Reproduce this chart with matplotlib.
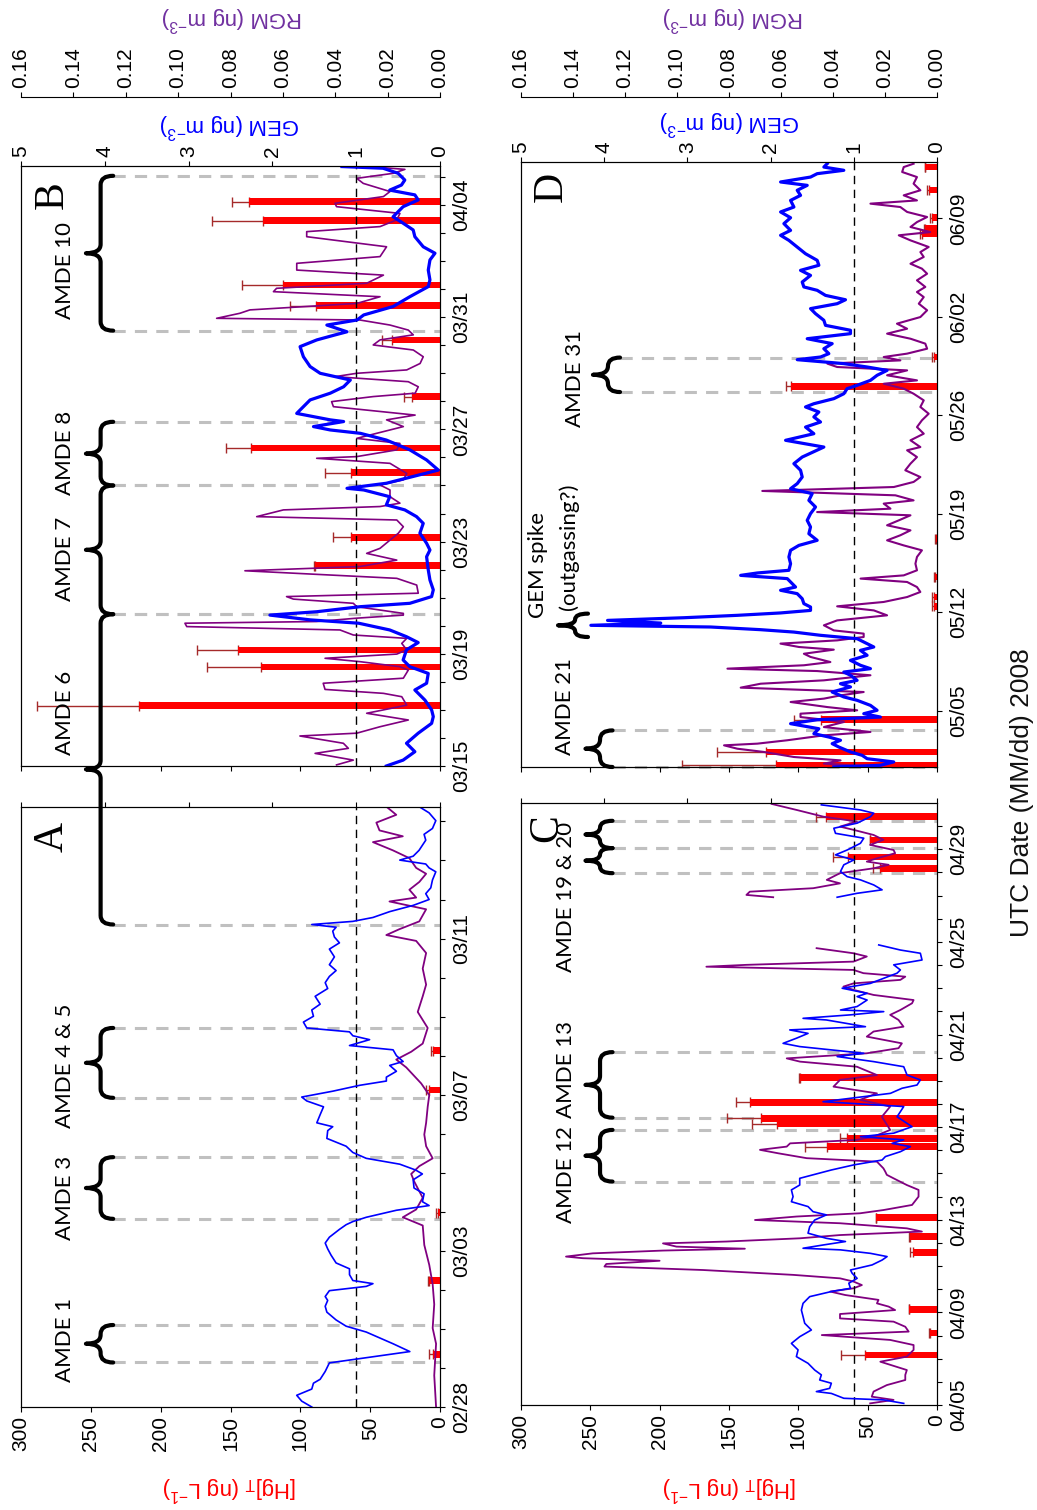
import numpy as np
import matplotlib
matplotlib.use('Agg')
import matplotlib.pyplot as plt
from matplotlib.path import Path
from matplotlib.patches import PathPatch
from matplotlib.transforms import blended_transform_factory
from matplotlib.ticker import FormatStrFormatter
from datetime import date

plt.rcParams['font.family'] = ['Liberation Sans', 'DejaVu Sans']

# ---------------- data (time = days since 2008-01-01) ----------------
A_gem = [(58.00,1.53),(58.15,1.65),(58.30,1.71),(58.46,1.53),(58.61,1.51),(58.71,1.43),(58.91,1.37),(59.13,1.32),
         (59.42,0.36),(59.62,0.56),(59.77,0.72),(59.92,0.88),(60.07,1.12),(60.23,1.24),(60.43,1.35),(60.58,1.37),
         (60.73,1.34),(60.83,1.37),(60.98,1.32),(61.09,0.88),(61.16,0.80),(61.24,1.04),(61.39,1.08),(61.54,1.08),
         (61.69,1.24),(61.89,1.30),(62.05,1.34),(62.20,1.37),(62.35,1.32),(62.55,1.20),(62.67,1.12),(62.75,1.04),
         (62.86,0.88),(63.04,0.52),(63.16,0.13),(63.26,0.21),(63.46,0.19),(63.61,0.31),(63.82,0.32),(63.97,0.21),
         (64.07,0.29),(64.22,0.48),(64.37,0.88),(64.52,1.04),(64.68,1.12),(64.88,1.35),(65.08,1.34),(65.18,1.28),
         (65.28,1.47),(65.49,1.43),(65.69,1.39),(65.84,1.59),(65.94,1.65),(66.09,1.28),(66.24,0.96),(66.35,0.64),
         (66.45,0.64),(66.60,0.52),(66.75,0.60),(66.85,0.44),(67.00,0.52),(67.15,0.56),(67.26,1.08),(67.41,0.84),
         (67.51,1.04),(67.61,1.08),(67.71,1.59),(67.86,1.63),(68.01,1.51),(68.17,1.53),(68.32,1.43),(68.52,1.49),
         (68.72,1.34),(68.87,1.37),(69.03,1.32),(69.18,1.24),(69.33,1.32),(69.53,1.26),(69.73,1.32),(69.89,1.20),
         (70.04,1.26),(70.19,1.28),(70.29,1.24),(70.36,1.53),(70.44,1.04),(70.54,0.80),(70.69,0.60),(70.85,0.32),
         (71.00,0.13),(71.15,0.17),(71.30,0.11),(71.50,0.09),(71.71,0.05),(71.81,0.13),(71.91,0.17),(72.01,0.48),
         (72.11,0.32),(72.26,0.25),(72.52,0.17),(72.67,0.19),(72.82,0.09),(73.02,0.05),(73.22,0.13),(73.38,0.25)]
A_rgm = [(58.00,0.0015),(58.81,0.0022),(59.62,0.0015),(60.02,0.0028),(60.63,0.0022),(61.14,0.0028),(61.64,0.0041),
         (62.15,0.0060),(62.65,0.0066),(62.86,0.0142),(63.06,0.0091),(63.36,0.0066),(63.77,0.0098),(63.97,0.0110),
         (64.17,0.0079),(64.37,0.0028),(64.68,0.0053),(64.98,0.0060),(65.28,0.0053),(65.69,0.0047),(65.99,0.0041),
         (66.29,0.0072),(66.70,0.0129),(66.90,0.0167),(67.10,0.0110),(67.31,0.0066),(67.71,0.0047),(68.12,0.0085),
         (68.52,0.0066),(68.82,0.0053),(69.23,0.0066),(69.63,0.0053),(69.94,0.0091),(70.09,0.0205),(70.24,0.0155),
         (70.44,0.0079),(70.75,0.0053),(70.95,0.0193),(71.05,0.0091),(71.25,0.0117),(71.45,0.0079),(71.66,0.0053),
         (71.81,0.0091),(72.06,0.0117),(72.26,0.0180),(72.47,0.0256),(72.62,0.0142),(72.77,0.0231),(72.97,0.0243),
         (73.17,0.0167),(73.38,0.0205)]
A_hg = [(59.35,5.2,7.6),(61.24,7.6,8.8),(62.98,1.7,2.9),(66.12,7.6,10.0),(67.13,5.2,6.4)]

B_gem = [(74.00,0.64),(74.21,0.44),(74.51,0.30),(74.81,0.40),(75.17,0.26),(75.52,0.10),(75.76,0.08),(76.00,0.10),
         (76.35,0.18),(76.71,0.30),(76.95,0.16),(77.30,0.14),(77.54,0.36),(77.78,0.44),(78.14,0.40),(78.40,0.26),
         (78.61,0.40),(78.85,0.60),(79.09,0.97),(79.21,1.55),(79.38,2.03),(79.50,1.47),(79.68,0.95),(79.80,0.36),
         (80.04,0.10),(80.28,0.08),(80.63,0.12),(80.99,0.14),(81.46,0.16),(81.70,0.12),(81.94,0.16),(82.30,0.24),
         (82.65,0.20),(82.89,0.28),(83.13,0.42),(83.31,0.64),(83.60,0.60),(83.84,0.91),(83.90,1.11),(84.08,0.64),
         (84.55,0.02),(84.91,0.16),(85.27,0.36),(85.62,0.64),(85.86,0.95),(85.98,1.31),(86.10,1.51),(86.28,1.15),
         (86.34,1.31),(86.57,1.71),(86.81,1.63),(87.05,1.55),(87.29,1.31),(87.52,1.15),(87.76,1.07),(88.00,1.43),
         (88.24,1.55),(88.59,1.63),(88.95,1.67),(89.19,1.47),(89.37,1.25),(89.48,1.11),(89.72,1.35),(89.90,0.99),
         (90.08,0.91),(90.38,0.56),(90.73,0.36),(91.09,0.14),(91.33,0.12),(91.68,0.14),(92.04,0.12),(92.28,0.06),
         (92.51,0.20),(92.87,0.30),(93.11,0.32),(93.35,0.44),(93.58,0.56),(93.94,0.44),(94.18,0.26),(94.36,0.30),
         (94.53,0.60),(94.71,0.46),(94.89,0.42),(95.13,0.50),(95.31,0.68),(95.37,1.17)]
B_rgm = [(74.04,0.0395),(74.21,0.0331),(74.45,0.0477),(74.63,0.0350),(74.81,0.0369),(75.07,0.0535),(75.17,0.0318),
         (75.40,0.0229),(75.64,0.0121),(75.88,0.0280),(76.00,0.0216),(76.17,0.0127),(76.47,0.0146),(76.59,0.0216),
         (76.73,0.0439),(76.95,0.0446),(77.13,0.0140),(77.42,0.0121),(77.54,0.0153),(77.72,0.0306),(77.84,0.0439),
         (77.99,0.0165),(78.14,0.0127),(78.37,0.0146),(78.55,0.0127),(78.67,0.0331),(78.85,0.0382),(78.97,0.0967),
         (79.09,0.0974),(79.15,0.0471),(79.27,0.0318),(79.38,0.0140),(79.44,0.0140),(79.68,0.0318),(79.80,0.0331),
         (79.95,0.0560),(80.04,0.0586),(80.16,0.0083),(80.45,0.0089),(80.69,0.0165),(80.96,0.0745),(81.11,0.0306),
         (81.34,0.0165),(81.58,0.0280),(81.76,0.0229),(82.30,0.0159),(82.53,0.0140),(82.77,0.0165),(82.89,0.0700),
         (83.13,0.0598),(83.25,0.0229),(83.37,0.0153),(83.60,0.0191),(83.84,0.0191),(84.02,0.0229),(84.20,0.0140),
         (84.43,0.0127),(84.79,0.0191),(84.97,0.0471),(85.03,0.0318),(85.27,0.0165),(85.50,0.0153),(85.68,0.0318),
         (85.86,0.0242),(86.10,0.0140),(86.34,0.0204),(86.51,0.0095),(86.81,0.0407),(86.99,0.0414),(87.17,0.0255),
         (87.29,0.0095),(87.52,0.0083),(87.70,0.0121),(87.88,0.0401),(88.00,0.0318),(88.12,0.0127),(88.35,0.0076),
         (88.59,0.0064),(88.83,0.0102),(89.01,0.0255),(89.19,0.0229),(89.37,0.0102),(89.54,0.0121),(89.72,0.0191),
         (89.90,0.0306),(89.96,0.0853),(90.14,0.0764),(90.26,0.0726),(90.49,0.0318),(90.73,0.0229),(90.91,0.0636),
         (91.03,0.0624),(91.21,0.0280),(91.50,0.0216),(91.68,0.0547),(91.92,0.0547),(92.16,0.0229),(92.51,0.0204),
         (92.87,0.0509),(93.05,0.0509),(93.23,0.0229),(93.47,0.0165),(93.70,0.0153),(93.94,0.0395),(94.06,0.0401),
         (94.30,0.0216),(94.48,0.0191),(94.77,0.0293),(94.95,0.0318),(95.13,0.0178),(95.27,0.0134),(95.34,0.0229)]
B_hg = [(76.15,215.5,288.9),(77.52,128.2,166.6),(78.14,144.4,173.7),(81.14,89.5,90.2),(82.15,64.0,76.4),
        (84.46,64.0,82.3),(85.33,135.6,153.2),(87.17,20.3,25.5),(89.19,34.6,41.8),(90.41,88.8,107.4),
        (91.15,112.6,142.0),(93.44,127.0,163.5),(94.12,136.5,149.0)]

C_gem = [(95.07,0.40),(95.22,0.64),(95.29,1.12),(95.50,1.27),(95.58,1.45),(95.72,1.29),(95.94,1.27),(96.08,1.41),
         (96.30,1.39),(96.51,1.47),(96.80,1.55),(97.09,1.69),(97.38,1.67),(97.66,1.75),(97.95,1.65),(98.24,1.51),
         (98.53,1.59),(98.82,1.61),(99.10,1.63),(99.39,1.61),(99.68,1.53),(99.90,1.27),(100.04,1.04),(100.26,1.06),
         (100.47,0.96),(100.69,1.02),(100.83,1.04),(101.05,0.78),(101.26,0.66),(101.41,0.60),(101.55,0.80),
         (101.70,1.16),(101.77,1.61),(101.91,1.37),(102.06,1.10),(102.20,1.33),(102.42,1.55),(102.70,1.53),
         (102.99,1.47),(103.21,1.33),(103.35,1.49),(103.57,1.55),(103.78,1.75),(104.00,1.73),(104.29,1.75),
         (104.50,1.65),(104.79,1.65),(105.15,1.27),(105.37,1.00),(105.58,0.66),(105.73,0.62),(105.94,0.44),
         (106.16,0.32),(106.30,0.54),(106.45,0.40),(106.59,0.92),(106.74,0.52),(107.02,0.30),(107.45,0.48),
         (107.89,0.40),(108.10,1.37),(108.46,0.56),(108.68,0.42),(108.82,0.24),(109.04,0.20),(109.25,0.36),
         (109.61,0.40),(109.83,0.76),(110.05,1.20),(110.19,0.88),(110.48,1.65),(110.62,1.85),(110.84,1.69),
         (111.05,1.55),(111.20,1.77),(111.34,0.86),(111.63,1.33),(111.70,1.61),(111.85,1.04),(111.99,0.64),
         (112.06,1.16),(112.21,0.96),(112.49,0.84),(112.64,0.96),(112.78,0.84),(113.00,1.14),(113.21,0.80),
         (113.43,0.64),(113.65,0.48),(113.79,0.44),(114.01,0.52),(114.22,0.18),(114.51,0.20),(114.65,0.44),
         (114.87,0.70),(115.9,np.nan),(116.93,1.20),(117.10,0.96),(117.25,0.66),(117.46,0.76),(117.68,0.92),
         (117.82,1.08),(118.04,1.16),(118.33,1.12),(118.54,1.00),(118.76,1.22),(118.97,1.08),(119.26,0.92),
         (119.48,0.88),(119.69,1.22),(119.91,1.24),(120.13,0.96),(120.41,0.80),(120.56,0.76),(120.70,0.92),
         (120.92,1.39)]
C_rgm = [(95.07,0.0257),(95.22,0.0167),(95.36,0.0251),(95.58,0.0244),(95.86,0.0193),(96.08,0.0122),(96.30,0.0122),
         (96.51,0.0116),(96.87,0.0218),(97.09,0.0116),(97.38,0.0090),(97.59,0.0090),(97.81,0.0180),(98.02,0.0443),
         (98.17,0.0109),(98.38,0.0122),(98.60,0.0167),(98.74,0.0373),(98.93,0.0373),(99.10,0.0161),(99.25,0.0186),
         (99.39,0.0231),(99.54,0.0225),(99.75,0.0353),(99.90,0.0411),(100.04,0.0321),(100.18,0.0289),(100.33,0.0321),
         (100.47,0.0373),(100.62,0.0553),(100.83,0.0900),(100.98,0.1279),(101.09,0.1272),(101.23,0.1067),
         (101.34,0.1362),(101.41,0.1427),(101.55,0.1324),(101.67,0.1054),(101.75,0.0739),(101.84,0.1002),
         (101.98,0.1054),(102.06,0.0810),(102.20,0.0527),(102.34,0.0373),(102.49,0.0058),(102.63,0.0116),
         (102.85,0.0373),(102.99,0.0700),(103.14,0.0540),(103.28,0.0296),(103.42,0.0206),(103.64,0.0096),
         (104.00,0.0071),(104.29,0.0071),(104.50,0.0116),(104.79,0.0167),(104.94,0.0193),(105.08,0.0199),
         (105.22,0.0206),(105.51,0.0231),(105.66,0.0501),(105.87,0.0610),(106.02,0.0681),(106.16,0.0578),
         (106.30,0.0565),(106.45,0.0308),(106.59,0.0244),(106.88,0.0180),(107.45,0.0212),(107.89,0.0180),
         (108.18,0.0296),(108.46,0.0231),(108.75,0.0398),(109.04,0.0373),(109.25,0.0231),(109.61,0.0308),
         (109.83,0.0527),(109.97,0.0578),(110.19,0.0270),(110.41,0.0148),(110.62,0.0135),(110.91,0.0270),
         (111.13,0.0244),(111.34,0.0129),(111.63,0.0148),(111.85,0.0180),(112.06,0.0141),(112.35,0.0096),
         (112.49,0.0090),(112.71,0.0244),(112.93,0.0321),(113.07,0.0360),(113.21,0.0321),(113.36,0.0141),
         (113.50,0.0122),(113.65,0.0283),(113.79,0.0321),(113.93,0.0887),(114.01,0.0733),(114.15,0.0321),
         (114.37,0.0270),(114.51,0.0321),(114.73,0.0463),(115.9,np.nan),(116.93,0.0630),(117.03,0.0733),
         (117.17,0.0720),(117.32,0.0476),(117.53,0.0373),(117.68,0.0424),(117.97,0.0373),(118.18,0.0244),
         (118.33,0.0186),(118.47,0.0270),(118.61,0.0231),(118.83,0.0161),(118.97,0.0167),(119.19,0.0257),
         (119.41,0.0206),(119.62,0.0244),(119.84,0.0321),(119.98,0.0373),(120.20,0.0308),(120.41,0.0437),
         (120.70,0.0540),(120.96,0.0636)]
C_hg = [(97.16,51.8,69.2),(98.10,5.3,6.0),(99.13,20.5,20.5),(101.59,17.6,19.8),(102.27,19.8,20.5),
        (103.09,43.9,43.9),(106.16,79.0,95.2),(106.52,64.6,70.0),(107.14,115.2,133.3),(107.38,127.2,151.3),
        (108.07,134.5,145.0),(109.14,98.8,99.5),(118.18,41.0,45.8),(118.66,63.9,75.2),(119.41,48.2,48.2),
        (120.41,80.0,87.2)]

D_gem = [(121.00,1.24),(121.12,0.68),(121.36,0.52),(121.59,0.84),(121.83,0.90),(122.07,1.04),(122.42,1.18),
         (122.66,1.26),(122.90,1.16),(123.13,1.30),(123.37,1.48),(123.72,1.42),(124.08,1.76),(124.36,1.44),
         (124.55,0.68),(124.79,0.88),(125.03,0.72),(125.38,0.80),(125.74,0.96),(125.98,1.12),(126.33,1.26),
         (126.69,1.04),(126.92,1.16),(127.16,0.96),(127.52,1.04),(127.75,1.12),(127.99,0.80),(128.23,0.92),
         (128.58,1.04),(128.94,0.84),(129.29,0.92),(129.53,0.76),(129.88,0.88),(130.12,0.96),(130.36,1.40),
         (130.59,1.72),(130.76,2.12),(130.95,2.72),(131.07,4.16),(131.23,3.32),(131.42,3.96),(131.61,3.04),
         (131.78,2.40),(131.95,1.88),(132.13,1.52),(132.37,1.52),(132.61,1.60),(132.96,1.62),(133.32,1.68),
         (133.56,1.88),(133.79,1.70),(134.15,1.76),(134.39,1.80),(134.62,2.36),(134.79,2.16),(134.98,1.78),
         (135.45,1.76),(135.93,1.78),(136.40,1.76),(136.75,1.66),(137.11,1.44),(137.58,1.54),(138.06,1.52),
         (138.53,1.56),(139.01,1.52),(139.48,1.46),(139.95,1.54),(140.43,1.50),(140.78,1.76),(141.14,1.68),
         (141.61,1.62),(142.09,1.64),(142.56,1.72),(143.03,1.62),(143.74,1.36),(144.22,1.82),(144.69,1.48),
         (145.16,1.58),(145.52,1.40),(145.88,1.48),(146.23,1.42),(146.59,1.58),(146.82,1.48),(147.18,1.24),
         (147.53,1.12),(147.89,1.08),(148.13,0.96),(148.48,0.80),(148.84,0.72),(149.19,0.60),(149.43,0.84),
         (149.67,1.12),(149.95,1.68),(150.14,1.40),(150.38,1.30),(150.73,1.36),(151.09,1.26),(151.44,1.56),
         (151.80,1.04),(152.04,1.04),(152.39,1.34),(152.75,1.36),(153.22,1.46),(153.58,1.52),(153.93,1.20),
         (154.21,1.10),(154.52,1.34),(154.88,1.44),(155.12,1.60),(155.47,1.62),(155.94,1.52),(156.30,1.64),
         (156.66,1.42),(157.01,1.44),(157.48,1.58),(157.96,1.68),(158.43,1.78),(158.79,1.88),(159.14,1.76),
         (159.62,1.84),(160.04,1.76),(160.45,1.88),(160.80,1.72),(161.27,1.76),(161.63,1.64),(161.99,1.68),
         (162.34,1.56),(162.58,1.88),(162.93,1.52),(163.17,1.44),(163.41,1.12),(163.64,1.36),(163.88,1.32)]
D_rgm = [(121.00,0.0230),(121.24,0.0435),(121.47,0.0371),(121.71,0.0550),(122.07,0.0666),(122.30,0.0768),
         (122.54,0.0819),(122.66,0.0691),(122.90,0.0576),(123.25,0.0435),(123.49,0.0256),(123.84,0.0435),
         (124.20,0.0358),(124.55,0.0525),(124.79,0.0525),(125.03,0.0307),(125.26,0.0422),(125.62,0.0563),
         (125.86,0.0435),(126.09,0.0371),(126.33,0.0282),(126.64,0.0755),(126.92,0.0678),(127.16,0.0435),
         (127.52,0.0256),(127.82,0.0461),(127.99,0.0806),(128.23,0.0512),(128.46,0.0410),(128.82,0.0486),
         (129.05,0.0512),(129.34,0.0397),(129.53,0.0531),(129.77,0.0602),(130.00,0.0384),(130.24,0.0282),
         (130.48,0.0282),(130.71,0.0397),(131.07,0.0435),(131.42,0.0384),(131.78,0.0192),(132.13,0.0243),
         (132.42,0.0384),(132.73,0.0205),(133.08,0.0115),(133.44,0.0064),(133.79,0.0077),(134.15,0.0115),
         (134.39,0.0294),(134.62,0.0128),(134.98,0.0077),(135.45,0.0083),(135.93,0.0077),(136.40,0.0058),
         (136.75,0.0128),(137.11,0.0192),(137.47,0.0141),(137.82,0.0102),(138.18,0.0192),(138.53,0.0147),
         (138.89,0.0102),(139.12,0.0461),(139.36,0.0179),(139.72,0.0205),(139.95,0.0090),(140.31,0.0160),
         (140.62,0.0672),(140.90,0.0166),(141.26,0.0090),(141.61,0.0064),(142.09,0.0122),(142.56,0.0102),
         (143.03,0.0077),(143.51,0.0115),(143.74,0.0064),(144.22,0.0102),(144.69,0.0051),(145.16,0.0077),
         (145.64,0.0058),(146.11,0.0032),(146.59,0.0064),(147.06,0.0051),(147.53,0.0090),(147.89,0.0128),
         (148.24,0.0205),(148.48,0.0077),(148.84,0.0192),(149.19,0.0115),(149.43,0.0384),(149.67,0.0422),
         (149.90,0.0141),(150.14,0.0205),(150.38,0.0115),(150.73,0.0038),(151.09,0.0045),(151.44,0.0102),
         (151.80,0.0192),(152.15,0.0115),(152.51,0.0154),(152.98,0.0064),(153.46,0.0038),(153.93,0.0070),
         (154.40,0.0051),(154.76,0.0077),(155.12,0.0045),(155.59,0.0077),(156.06,0.0038),(156.42,0.0058),
         (156.77,0.0102),(157.25,0.0051),(157.60,0.0064),(157.96,0.0032),(158.43,0.0102),(158.79,0.0147),
         (159.02,0.0026),(159.38,0.0102),(159.73,0.0077),(160.09,0.0038),(160.45,0.0115),(160.80,0.0141),
         (161.04,0.0256),(161.27,0.0077),(161.63,0.0128),(161.99,0.0064),(162.46,0.0090),(162.93,0.0077),
         (163.29,0.0134),(163.64,0.0128),(163.88,0.0090)]
D_hg = [(121.12,116.4,183.6),(122.07,123.6,158.4),(124.36,84.0,103.2),(132.42,2.4,3.6),(133.08,2.4,3.6),
        (134.50,1.2,2.4),(137.23,0.7,1.5),(148.06,105.6,109.2),(150.14,2.4,3.6),(158.91,10.8,12.0),
        (159.26,8.4,9.6),(160.04,3.6,4.8),(162.00,6.0,7.0),(163.64,8.4,9.0)]

# date tick labels
A_dates = ['02/28', '03/03', '03/07', '03/11']
B_dates = ['03/15', '03/19', '03/23', '03/27', '03/31', '04/04']
C_dates = ['04/05', '04/09', '04/13', '04/17', '04/21', '04/25', '04/29']
D_dates = ['05/05', '05/12', '05/19', '05/26', '06/02', '06/09']

# AMDE events (start, end) and labels (label, centre time)
A_events = [(59.14, 60.10), (62.82, 64.40), (65.92, 67.71)]
A_labels = [('AMDE 1', 59.72), ('AMDE 3', 63.36), ('AMDE 4 & 5', 66.73)]
AMDE6 = (70.36, 79.41)
B_events = [(79.41, 84.00), (84.00, 86.27), (89.52, 95.04)]
B_labels = [('AMDE 6', 75.89), ('AMDE 7', 81.38), ('AMDE 8', 85.16), ('AMDE 10', 91.68)]
C_events = [(104.65, 106.88), (107.41, 110.24), (117.97, 119.05), (119.05, 120.23)]
C_labels = [('AMDE 12', 104.94), ('AMDE 13', 109.47), ('AMDE 19 & 20', 116.94)]
D_events = [(121.0, 123.6), (147.65, 150.1)]
D_labels = [('AMDE 21', 125.31), ('AMDE 31', 148.63)]
GEM_spike = (130.24, 131.90)

# ---------------- figure ----------------
W, H = 1037, 1510
fig = plt.figure(figsize=(W / 100, H / 100), dpi=100)

BLUE = '#0000ff'
PURPLE = '#800080'
RED = '#ff0000'
ERR = '#a52a2a'
GRAY = '#c0c0c0'


def doy(s):
    m, d = map(int, s.split('/'))
    return (date(2008, m, d) - date(2008, 1, 1)).days


def px_axes(x0, y0, x1, y1):
    return fig.add_axes([x0 / W, 1 - y1 / H, (x1 - x0) / W, (y1 - y0) / H])


def make_panel(box, tlim, dates, minor, hg_labels, top_labels, rgm_off,
               gem, rgm, hg, barh, gem_lw, rgm_lw):
    ax = px_axes(*box)
    ax.set_xlim(300, 0)
    ax.set_ylim(*tlim)
    ax.set_xticks(np.arange(0, 301, 50))
    ax.tick_params(axis='x', direction='out', length=3.6, width=0.8, labelsize=15,
                   labelbottom=hg_labels, labelrotation=90, pad=3)
    ax.yaxis.tick_right()
    ax.set_yticks([doy(d) for d in dates])
    ax.set_yticklabels(dates, rotation=90, va='center')
    if minor:
        ax.set_yticks(np.arange(np.ceil(tlim[0]), tlim[1], 1.0), minor=True)
    ax.tick_params(axis='y', which='both', direction='out', length=3.6, width=0.8,
                   labelsize=15, pad=5, right=True, left=False)
    for s in ax.spines.values():
        s.set_linewidth(0.8)

    axr = ax.twiny()
    axr.set_xlim(0.16, 0)
    if rgm_off is not None:
        axr.spines['top'].set_position(('outward', rgm_off))
        for s in ['left', 'right', 'bottom']:
            axr.spines[s].set_visible(False)
        axr.set_xticks(np.arange(0, 0.1601, 0.02))
        axr.xaxis.set_major_formatter(FormatStrFormatter('%.2f'))
        axr.tick_params(axis='x', direction='out', length=3.6, width=0.8, labelsize=15,
                        labelrotation=90, pad=3)
    else:
        axr.axis('off')

    axg = ax.twiny()
    axg.set_xlim(5, 0)
    axg.set_xticks(np.arange(0, 6, 1))
    axg.tick_params(axis='x', direction='out', length=3.6, width=0.8, labelsize=15,
                    labeltop=top_labels, labelrotation=90, pad=3)
    axg.axvline(1, color='k', lw=1.0, ls=(0, (6, 4)), zorder=1)

    ht, hv, he = np.array(hg).T
    ax.errorbar(he * 0 + hv, ht, xerr=[np.zeros_like(hv), he - hv], fmt='none',
                ecolor=ERR, elinewidth=1.0, capsize=3.5, capthick=1.0, zorder=2)
    ax.barh(ht, hv, height=barh, color=RED, zorder=3)

    rt, rv = np.array(rgm).T
    axr.plot(rv, rt, color=PURPLE, lw=rgm_lw)
    gt, gv = np.array(gem).T
    axg.plot(gv, gt, color=BLUE, lw=gem_lw)
    return ax


axA = make_panel((21, 807, 440, 1407), (58.0, 73.37), A_dates, True, True, False, None,
                 A_gem, A_rgm, A_hg, 0.17, 1.2, 1.3)
axB = make_panel((21, 166, 440, 766), (74.0, 95.39), B_dates, True, False, True, 49.7,
                 B_gem, B_rgm, B_hg, 0.23, 2.3, 1.2)
axC = make_panel((521, 803, 937, 1405), (95.0, 121.0), C_dates, True, True, False, None,
                 C_gem, C_rgm, C_hg, 0.28, 1.2, 1.3)
axD = make_panel((521, 162, 937, 767), (121.0, 164.0), D_dates, False, False, True, 46.8,
                 D_gem, D_rgm, D_hg, 0.46, 2.3, 1.5)


def bt(ax):
    return blended_transform_factory(ax.transAxes, ax.transData)


def brace_px(x_t, x_b, x_e, ya, yb, lw=3.0):
    ya, yb = min(ya, yb), max(ya, yb)
    ym = (ya + yb) / 2
    r = min(9.0, (yb - ya) / 4)
    V = [(x_e, ya), (x_b, ya), (x_b, ya + r), (x_b, ym - r), (x_b, ym), (x_t, ym),
         (x_b, ym), (x_b, ym + r), (x_b, yb - r), (x_b, yb), (x_e, yb)]
    C = [Path.MOVETO, Path.CURVE3, Path.CURVE3, Path.LINETO, Path.CURVE3, Path.CURVE3,
         Path.CURVE3, Path.CURVE3, Path.LINETO, Path.CURVE3, Path.CURVE3]
    V = [(x / fig.bbox.width, y / fig.bbox.height) for x, y in V]
    fig.add_artist(PathPatch(Path(V, C), transform=fig.transFigure, fill=False,
                             lw=lw, ec='k', capstyle='round', joinstyle='round'))


def to_px(ax, xf, t):
    return bt(ax).transform((xf, t))


def event_marks(ax, events, xt=0.155, xb=0.19, xe=0.22, dashed=True):
    for (t0, t1) in events:
        p0 = to_px(ax, xt, t0)
        p1 = to_px(ax, xt, t1)
        xpt = to_px(ax, xt, t0)[0]
        xpb = to_px(ax, xb, t0)[0]
        xpe = to_px(ax, xe, t0)[0]
        brace_px(xpt, xpb, xpe, p0[1], p1[1])
        if dashed:
            for t in (t0, t1):
                ax.plot([xe, 1.0], [t, t], transform=bt(ax), color=GRAY, lw=2.2,
                        ls=(0, (4, 3)), zorder=1, clip_on=False)


event_marks(axA, A_events)
event_marks(axB, B_events)
event_marks(axC, C_events)
event_marks(axD, D_events[:1])
event_marks(axD, D_events[1:], xt=0.173, xb=0.209, xe=0.238)

# AMDE 6 spans panels A and B
for ax, t in ((axA, AMDE6[0]), (axB, AMDE6[1])):
    ax.plot([0.22, 1.0], [t, t], transform=bt(ax), color=GRAY, lw=2.2,
            ls=(0, (4, 3)), zorder=1, clip_on=False)
pa = to_px(axA, 0.155, AMDE6[0])
pb = to_px(axB, 0.155, AMDE6[1])
brace_px(pa[0], to_px(axA, 0.19, 0)[0], to_px(axA, 0.22, 0)[0], pa[1], pb[1])

# GEM spike brace (no dashed lines)
gs0 = to_px(axD, 0.089, GEM_spike[0])
gs1 = to_px(axD, 0.089, GEM_spike[1])
brace_px(gs0[0], to_px(axD, 0.13, 0)[0][0] if False else to_px(axD, 0.13, 130)[0],
         to_px(axD, 0.161, 130)[0], gs0[1], gs1[1], lw=3.0)

# event labels
lab_font = dict(family=['Lato', 'DejaVu Sans'], fontsize=16, rotation=90,
                ha='center', va='center')
for ax, labs, xf in ((axA, A_labels, 0.105), (axB, B_labels, 0.105),
                     (axC, C_labels, 0.108), (axD, D_labels[:1], 0.105),
                     (axD, D_labels[1:], 0.13)):
    for txt, t in labs:
        ax.text(xf, t, txt, transform=bt(ax), **lab_font)
axD.text(0.041, 131.56, 'GEM spike', transform=bt(axD), family=['Lato', 'DejaVu Sans'],
         fontsize=16, rotation=90, ha='center', va='bottom')
axD.text(0.115, 132.14, '(outgassing?)', transform=bt(axD), family=['Lato', 'DejaVu Sans'],
         fontsize=16, rotation=90, ha='center', va='bottom')

# panel letters
for ax, letter, xf, yf in ((axA, 'A', 0.074, 0.95), (axB, 'B', 0.074, 0.952),
                           (axC, 'C', 0.0625, 0.958), (axD, 'D', 0.0745, 0.959)):
    ax.text(xf, yf, letter, transform=ax.transAxes, rotation=90, ha='center', va='center',
            fontsize=30, family=['Liberation Serif', 'DejaVu Serif'])

# axis titles
hg_lab = r'[Hg]$_\mathregular{T}$ (ng L$^\mathregular{-1}$)'
gem_lab = r'GEM (ng m$^\mathregular{-3}$)'
rgm_lab = r'RGM (ng m$^\mathregular{-3}$)'
for xc in (230, 730):
    fig.text(xc / W, 1 - 1488 / H, hg_lab, color='red', rotation=180, ha='center',
             va='center', fontsize=16)
fig.text(230 / W, 1 - 125 / H, gem_lab, color='blue', rotation=180, ha='center', va='center', fontsize=16)
fig.text(730 / W, 1 - 122 / H, gem_lab, color='blue', rotation=180, ha='center', va='center', fontsize=16)
fig.text(232 / W, 1 - 18 / H, rgm_lab, color='#7030a0', rotation=180, ha='center', va='center', fontsize=16)
fig.text(733 / W, 1 - 18 / H, rgm_lab, color='#7030a0', rotation=180, ha='center', va='center', fontsize=16)
fig.text(1022 / W, 1 - 793 / H, 'UTC Date (MM/dd) 2008', rotation=90, ha='center', va='center',
         fontsize=19, color='#111111')

fig.savefig('out.png', dpi=100)
